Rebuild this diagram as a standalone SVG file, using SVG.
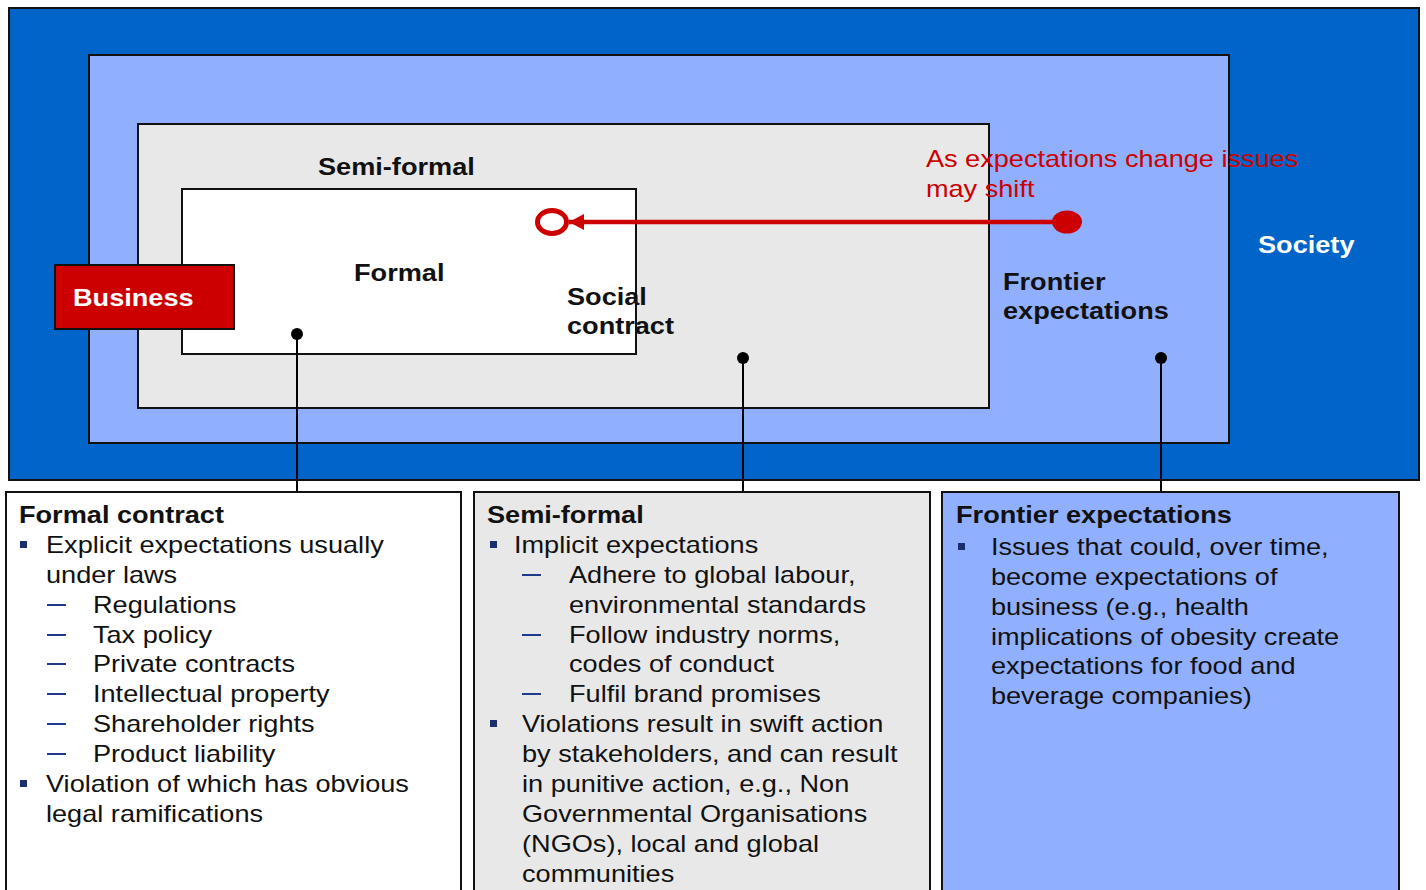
<svg xmlns="http://www.w3.org/2000/svg" width="1426" height="890" viewBox="0 0 1426 890">
<style>
text{font-family:"Liberation Sans",Arial,sans-serif;font-size:23px;fill:#111}
.b{font-weight:bold}
.w{fill:#fff}
.red{fill:#cc0000}
.frame{stroke:#111;stroke-width:2}
.conn{stroke:#000;stroke-width:2;fill:none}
.dot{fill:#000}
.bul{fill:#1a2f6b}
.dash{fill:#1f3a8a}
</style>
<defs>
<marker id="ah" markerUnits="userSpaceOnUse" markerWidth="15" markerHeight="16" refX="15" refY="8" orient="auto">
<path d="M0,0 L15,8 L0,16 z" fill="#cc0000"/>
</marker>
</defs>
<rect width="1426" height="890" fill="#fff"/>
<g id="society">
<rect x="9" y="8" width="1410" height="472" fill="#0064c8" class="frame"/>
<text class="b w" transform="scale(1.18 1)" x="1066.1" y="253">Society</text>
</g>
<g id="frontier">
<rect x="89" y="55" width="1140" height="388" fill="#91afff" class="frame"/>
<text class="b" transform="scale(1.18 1)"><tspan x="850" y="290">Frontier</tspan><tspan x="850" y="319">expectations</tspan></text>
</g>
<g id="semiformal">
<rect x="138" y="124" width="851" height="284" fill="#e8e8e8" class="frame"/>
<text class="b" transform="scale(1.18 1)" x="269.5" y="175">Semi-formal</text>
</g>
<g id="formal">
<rect x="182" y="189" width="454" height="165" fill="#fff" class="frame"/>
<text class="b" transform="scale(1.18 1)" x="300" y="281">Formal</text>
</g>
<g id="social-contract">
<text class="b" transform="scale(1.18 1)"><tspan x="480.5" y="305">Social</tspan><tspan x="480.5" y="334">contract</tspan></text>
</g>
<g id="business">
<rect x="55" y="265" width="179" height="64" fill="#cc0000" class="frame"/>
<text class="b w" transform="scale(1.18 1)" x="61.9" y="306">Business</text>
</g>
<g id="shift-note">
<text class="red" transform="scale(1.18 1)"><tspan x="784.7" y="167">As expectations change issues</tspan><tspan x="784.7" y="197">may shift</tspan></text>
</g>
<g id="connectors">
<line x1="1058" y1="222" x2="569" y2="222" stroke="#cc0000" stroke-width="4.5" marker-end="url(#ah)"/>
<ellipse cx="1067" cy="222" rx="15" ry="11.5" fill="#cc0000"/>
<ellipse cx="552" cy="222" rx="14.5" ry="11.5" fill="none" stroke="#cc0000" stroke-width="5"/>
<line class="conn" x1="297" y1="334" x2="297" y2="492"/>
<circle class="dot" cx="297" cy="334" r="6"/>
<line class="conn" x1="743" y1="358" x2="743" y2="492"/>
<circle class="dot" cx="743" cy="358" r="6"/>
<line class="conn" x1="1161" y1="358" x2="1161" y2="492"/>
<circle class="dot" cx="1161" cy="358" r="6"/>
</g>
<g id="panel-formal">
<rect x="6" y="492" width="455" height="410" fill="#fff" class="frame"/>
<rect class="bul" x="20" y="541" width="7" height="7"/>
<rect class="dash" x="47" y="604" width="19" height="2"/>
<rect class="dash" x="47" y="634" width="19" height="2"/>
<rect class="dash" x="47" y="663" width="19" height="2"/>
<rect class="dash" x="47" y="693" width="19" height="2"/>
<rect class="dash" x="47" y="723" width="19" height="2"/>
<rect class="dash" x="47" y="753" width="19" height="2"/>
<rect class="bul" x="20" y="780" width="7" height="7"/>
<g transform="scale(1.18 1)">
<text class="b" x="16.1" y="523">Formal contract</text>
<text x="39" y="553">Explicit expectations usually</text>
<text x="39" y="583">under laws</text>
<text x="78.8" y="613">Regulations</text>
<text x="78.8" y="643">Tax policy</text>
<text x="78.8" y="672">Private contracts</text>
<text x="78.8" y="702">Intellectual property</text>
<text x="78.8" y="732">Shareholder rights</text>
<text x="78.8" y="762">Product liability</text>
<text x="39" y="792">Violation of which has obvious</text>
<text x="39" y="822">legal ramifications</text>
</g>
</g>
<g id="panel-semiformal">
<rect x="474" y="492" width="456" height="410" fill="#e8e8e8" class="frame"/>
<rect class="bul" x="490" y="541" width="7" height="7"/>
<rect class="dash" x="522" y="574" width="19" height="2"/>
<rect class="dash" x="522" y="634" width="19" height="2"/>
<rect class="dash" x="522" y="693" width="19" height="2"/>
<rect class="bul" x="490" y="720" width="7" height="7"/>
<g transform="scale(1.18 1)">
<text class="b" x="412.7" y="523">Semi-formal</text>
<text x="435.6" y="553">Implicit expectations</text>
<text x="482.2" y="583">Adhere to global labour,</text>
<text x="482.2" y="613">environmental standards</text>
<text x="482.2" y="643">Follow industry norms,</text>
<text x="482.2" y="672">codes of conduct</text>
<text x="482.2" y="702">Fulfil brand promises</text>
<text x="442.4" y="732">Violations result in swift action</text>
<text x="442.4" y="762">by stakeholders, and can result</text>
<text x="442.4" y="792">in punitive action, e.g., Non</text>
<text x="442.4" y="822">Governmental Organisations</text>
<text x="442.4" y="852">(NGOs), local and global</text>
<text x="442.4" y="882">communities</text>
</g>
</g>
<g id="panel-frontier">
<rect x="942" y="492" width="457" height="410" fill="#91afff" class="frame"/>
<rect class="bul" x="958" y="543" width="7" height="7"/>
<g transform="scale(1.18 1)">
<text class="b" x="810.2" y="523">Frontier expectations</text>
<text x="839.8" y="555">Issues that could, over time,</text>
<text x="839.8" y="585">become expectations of</text>
<text x="839.8" y="615">business (e.g., health</text>
<text x="839.8" y="645">implications of obesity create</text>
<text x="839.8" y="674">expectations for food and</text>
<text x="839.8" y="704">beverage companies)</text>
</g>
</g>
</svg>
